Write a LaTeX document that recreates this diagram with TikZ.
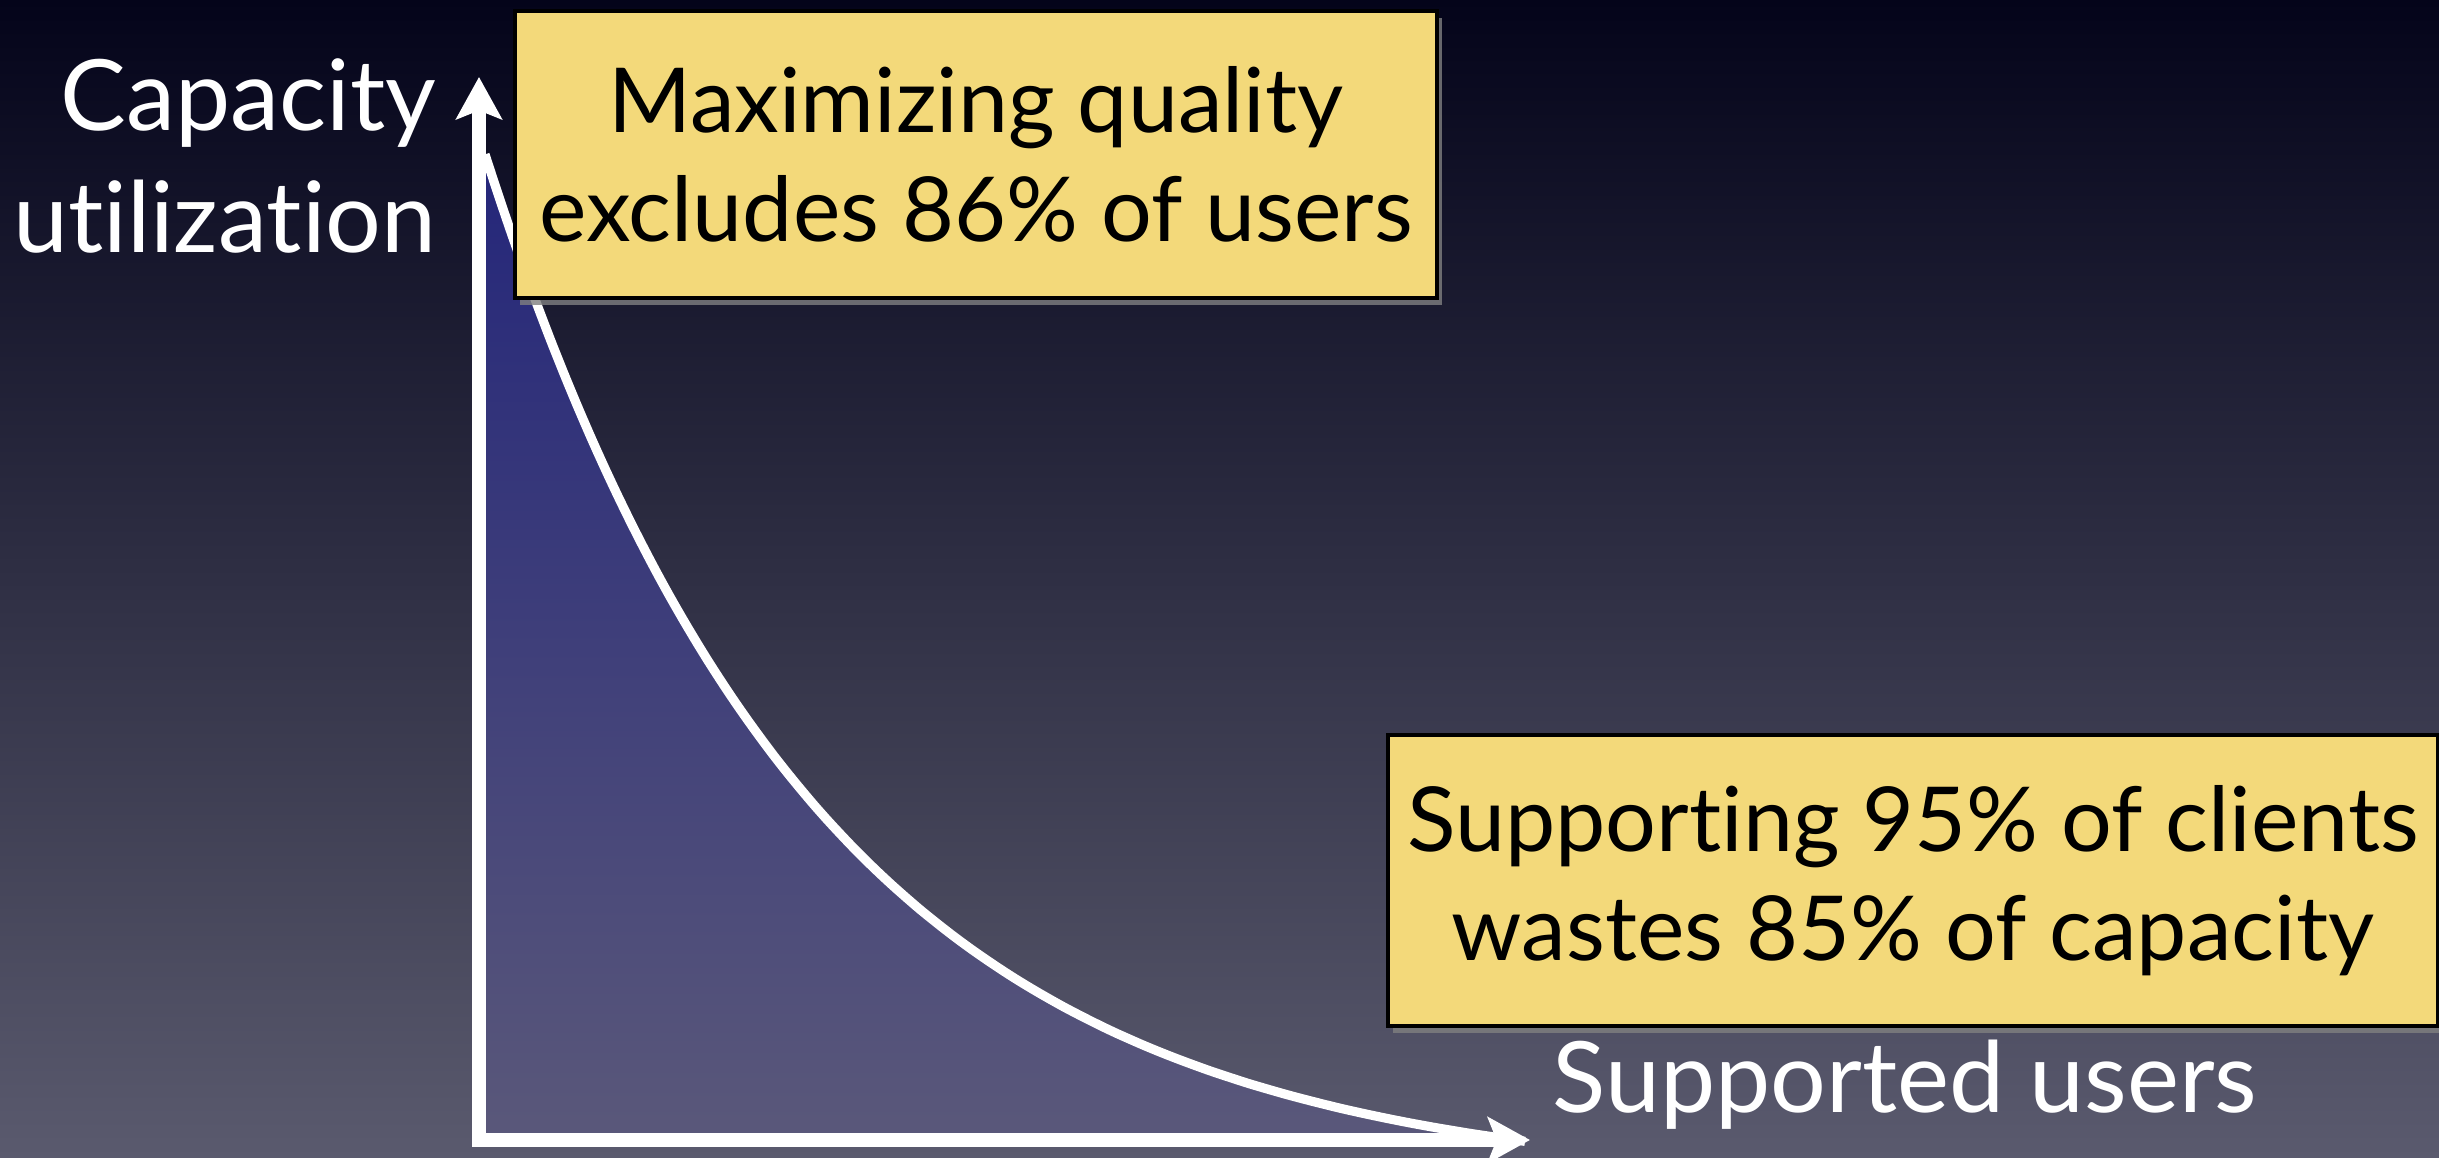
\documentclass[tikz,border=0pt]{standalone}
\usepackage{fontspec}
\setmainfont{Lato}[Ligatures={NoCommon,NoRare,NoContextual}]
\usetikzlibrary{arrows.meta,shadows}
\definecolor{bgtop}{RGB}{4,4,26}
\definecolor{bgbot}{RGB}{90,90,110}
\definecolor{areatop}{RGB}{36,38,122}
\definecolor{areabot}{RGB}{90,88,122}
\definecolor{notefill}{RGB}{243,217,122}
\tikzset{
	Axtip/.tip={Stealth[length=12pt,width=13pt,inset=2.5pt]},
	axisline/.style={white, line width=3.8pt, Axtip-Axtip},
	curveline/.style={white, line width=2.6pt},
	notebox/.style={draw=black, line width=1.2pt, fill=notefill, align=center, inner sep=0pt,
		font=\fontsize{25.5}{31}\selectfont,
		drop shadow={shadow xshift=1.5pt, shadow yshift=-2pt, opacity=0.8}},
	axislabel/.style={white, inner sep=0pt, font=\fontsize{28}{34.7}\selectfont}
}

\begin{document}
\begin{tikzpicture}[x=0.01cm, y=-0.01cm,
	declare function={decay(\u)=1140-1031*(exp(-\u/330)-0.044);}]
		%%%%% START %%%%%
		
		\useasboundingbox (0, 0) rectangle (2439, 1158);
		\shade[top color=bgtop, bottom color=bgbot] (0, 0) rectangle (2439, 1158);
		
		\coordinate (origin) at (479, 1140);
		\coordinate (ytip) at (479, 77);
		\coordinate (xtip) at (1530, 1140);
		
		% area below the curve
		\shade[top color=areatop, bottom color=areabot] (origin) -- (479, {decay(0)})
			-- plot[domain=0:1040, samples=80, smooth] ({485+\x}, {decay(\x)}) -- (1525, 1140) -- cycle;
		\draw[curveline] plot[domain=0:1040, samples=80, smooth] ({485+\x}, {decay(\x)});
		
		\draw[axisline] (ytip) |- (xtip);
		
		\node[axislabel, align=right, anchor=north east] (ylabel) at (437, 58) {Capacity\\utilization};
		\node[axislabel, anchor=base west] (xlabel) at (1552, 1112) {Supported users};
		
		\node[notebox, minimum width=262.3pt, minimum height=81.7pt] (quality) at (976, 154.5)
			{Maximizing quality\\excludes 86\% of users};
		\node[notebox, minimum width=298.8pt, minimum height=82.8pt] (clients) at (1913, 880.5)
			{Supporting 95\% of clients\\wastes 85\% of capacity};
		
		%%%%% END %%%%%
\end{tikzpicture}
\end{document}
